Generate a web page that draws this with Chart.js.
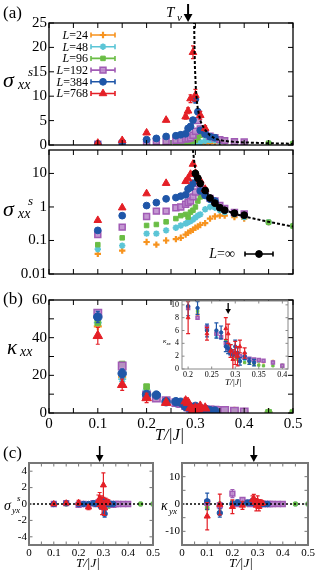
<!DOCTYPE html>
<html>
<head>
<meta charset="utf-8">
<script src="https://cdn.jsdelivr.net/npm/chart.js@4.4.1/dist/chart.umd.min.js"></script>
<style>
body { margin: 0; background: #fff; }
#wrap { position: relative; width: 316px; height: 571px; overflow: hidden; font-family: 'Liberation Serif', serif; color: #000; }
canvas { position: absolute; left: 0; top: 0; }
.t { position: absolute; white-space: nowrap; line-height: 1; }
.i { font-style: italic; }
.r { text-align: right; }
</style>
</head>
<body>
<div id="wrap">
  <canvas id="cTop" width="316" height="571"></canvas>
  <canvas id="cLog" width="316" height="571"></canvas>
  <canvas id="cK" width="316" height="571"></canvas>
  <canvas id="cInset" width="316" height="571"></canvas>
  <canvas id="cSyx" width="316" height="571"></canvas>
  <canvas id="cKyx" width="316" height="571"></canvas>

  <div class="t" style="left:3px;top:4px;font-size:17px">(a)</div>
  <div class="t i" style="left:166px;top:5px;font-size:15px">T</div>
  <div class="t i" style="left:177px;top:12px;font-size:11px">ν</div>

  <div class="t i" style="left:3px;top:69px;font-size:22px">σ</div>
  <div class="t i" style="left:18px;top:78px;font-size:14px">xx</div>
  <div class="t i" style="left:28px;top:65px;font-size:13px">s</div>

  <div class="t r" style="right:228px;top:29px;font-size:12px"><i>L</i>=24</div>
  <div class="t r" style="right:228px;top:41px;font-size:12px"><i>L</i>=48</div>
  <div class="t r" style="right:228px;top:52px;font-size:12px"><i>L</i>=96</div>
  <div class="t r" style="right:228px;top:64px;font-size:12px"><i>L</i>=192</div>
  <div class="t r" style="right:228px;top:76px;font-size:12px"><i>L</i>=384</div>
  <div class="t r" style="right:228px;top:87px;font-size:12px"><i>L</i>=768</div>

  <div class="t i" style="left:3px;top:198px;font-size:22px">σ</div>
  <div class="t i" style="left:18px;top:207px;font-size:14px">xx</div>
  <div class="t i" style="left:28px;top:194px;font-size:13px">s</div>
  <div class="t r" style="right:81px;top:247px;font-size:14px"><i>L</i>=∞</div>

  <div class="t" style="left:3px;top:290px;font-size:17px">(b)</div>
  <div class="t i" style="left:7px;top:337px;font-size:21px">κ</div>
  <div class="t i" style="left:20px;top:345px;font-size:14px">xx</div>
  <div class="t i" style="left:163px;top:338px;font-size:7px">κ<sub style="font-size:5px">xx</sub></div>
  <div class="t i" style="left:225px;top:378px;font-size:9px">T/|J|</div>
  <div class="t i" style="left:155px;top:427px;font-size:16px">T/|J|</div>

  <div class="t" style="left:3px;top:444px;font-size:17px">(c)</div>
  <div class="t i" style="left:4px;top:499px;font-size:14px">σ</div>
  <div class="t i" style="left:12px;top:506px;font-size:9px">yx</div>
  <div class="t i" style="left:17px;top:494px;font-size:9px">s</div>
  <div class="t i" style="left:76px;top:556px;font-size:13px">T/|J|</div>
  <div class="t i" style="left:161px;top:499px;font-size:14px">κ</div>
  <div class="t i" style="left:169px;top:507px;font-size:9px">yx</div>
  <div class="t i" style="left:229px;top:556px;font-size:13px">T/|J|</div>
</div>
<script>
// temperatures shared by all panels
const T = [0.1, 0.15, 0.2, 0.22, 0.24, 0.26, 0.27, 0.28, 0.285, 0.29, 0.295, 0.3, 0.305, 0.31, 0.32, 0.33, 0.34, 0.35, 0.36, 0.38, 0.4, 0.45, 0.5];

// sigma_xx^s for each L
const sxx24  = [0.04, 0.05, 0.09, 0.075, 0.1, 0.11, 0.12, 0.15, 0.17, 0.19, 0.21, 0.24, 0.26, 0.29, 0.33, 0.45, 0.52, 0.55, 0.55, 0.5, 0.45, 0.35, 0.27];
const sxx48  = [0.055, 0.07, 0.16, 0.16, 0.2, 0.24, 0.28, 0.32, 0.35, 0.38, 0.42, 0.48, 0.55, 0.6, 0.85, 1.0, 0.95, 0.8, 0.7, 0.6, 0.5, 0.35, 0.27];
const sxx96  = [0.075, 0.12, 0.28, 0.3, 0.36, 0.45, 0.55, 0.6, 0.5, 0.7, 0.8, 1.0, 1.5, 2.0, 2.2, 1.8, 1.4, 1.0, 0.8, 0.65, 0.55, 0.35, 0.27];
const sxx192 = [0.15, 0.25, 0.52, 0.75, 0.75, 0.95, 1.0, 1.2, 1.35, 1.5, 2.0, 2.8, 5.0, 3.3, 2.5, 1.8, 1.5, 1.1, 0.9, 0.68, 0.62, null, null];
const sxx384 = [0.2, 0.55, 1.1, 1.35, 1.75, 1.9, 2.1, 2.3, 3.4, 3.8, 5.1, 9.4, 6.8, 3.0, 2.2, 1.7, 1.5, null, null, null, null, null, null];
const sxx768 = [0.4, 0.95, 2.5, null, 5.1, null, null, 5.8, 7.0, 9.5, 19.0, 10.2, null, 6.1, 3.4, null, null, null, null, null, null, null, null];
const sxx384e = [0.03, 0.05, 0.1, 0.1, 0.15, 0.15, 0.2, 0.2, 0.3, 0.4, 0.5, 0.8, 0.6, 0.3, 0.2, 0.15, 0.15, null, null, null, null, null, null];
const sxx768e = [0.05, 0.1, 0.3, null, 0.3, null, null, 0.5, 0.6, 0.8, 1.3, 1.2, null, 0.8, 0.5, null, null, null, null, null, null, null, null];

// L = infinity extrapolation and fit curve
const Tinf = [0.3, 0.305, 0.31, 0.32, 0.33, 0.34, 0.35, 0.36, 0.38, 0.4];
const sInf = [10, 7.2, 5.0, 3.1, 1.85, 1.3, 0.95, 0.8, 0.65, 0.57];
const sInfE = [1.2, 0.8, 0.5, 0.3, 0.15, 0.1, 0.08, 0.06, 0.05, 0.05];
const Tfit = [0.295, 0.297, 0.299, 0.301, 0.303, 0.305, 0.31, 0.315, 0.32, 0.33, 0.34, 0.35, 0.36, 0.38, 0.4, 0.45, 0.5];
const sFit = [50, 27, 16, 11.5, 9, 7.4, 5.0, 3.9, 3.1, 1.95, 1.35, 1.0, 0.82, 0.63, 0.52, 0.36, 0.26];

// kappa_xx for each L
const kxx24  = [46, 19, 11, 8.5, 6, 5.5, 5, 4, 3.5, 3, 2.5, 2.2, 2, 1.8, 1.5, 1.3, 1.2, 1.1, 1.1, 1.2, 0.6, 0.3, 0.2];
const kxx48  = [48, 18, 12, 9, 6.5, 5, 4.8, 3.5, 3.2, 3, 2.5, 2, 1.8, 1.6, 1.4, 1.3, 1.2, 1.2, 1.2, 1.1, 0.6, 0.3, 0.2];
const kxx96  = [48, 26, 14, 9, 6, 5.5, 5, 4.5, 3.5, 2.5, 2.2, 2, 1.5, 1.2, 1, 0.9, 0.7, 0.6, 0.5, 0.5, 0.5, 0.3, 0.2];
const kxx192 = [53, 25, 9.5, 8, 6.5, 5.5, 5, 4, 3.2, 2.5, 2.3, 2.5, 2.2, 2, 1.8, 1.6, 1.5, 1.4, 1.3, 1, 0.5, null, null];
const kxx384 = [51, 21, 9.8, 9.5, 6, 6, 5.7, 3.5, 3.2, 3, 2.2, 3.5, 2.5, 1.2, 2, 1.2, 1, null, null, null, null, null, null];
const kxx768 = [41, 15, 8, null, 5.5, null, null, 6.3, 5.5, 2.8, 1.5, 2.5, 2, 3.5, 2.5, null, null, null, null, null, null, null, null];
const kxx384e = [3, 2.5, 1.5, 1, 1, 1.2, 1, 0.8, 0.8, 0.8, 0.8, 1, 0.8, 0.6, 0.5, 0.5, 0.5, null, null, null, null, null, null];
const kxx768e = [4.5, 3, 2.5, null, 1, null, null, 1.7, 1.5, 1, 1.5, 1.8, 1.5, 1, 0.8, null, null, null, null, null, null, null, null];

// sigma_yx^s for each L
const syx24  = [0, 0.05, 0, 0, 0, 0, 0, 0, 0, 0, 0.05, 0, 0, 0, 0, 0, 0, 0, 0, 0, 0, 0, 0];
const syx48  = [0, 0, 0, 0, 0, 0, 0, 0.1, 0, 0.1, 0, 0.1, 0, -0.1, 0, 0.1, 0, 0, 0, 0, 0, 0, 0];
const syx96  = [0, 0, 0, 0, 0, 0, 0, 0.1, 0.2, 0.1, 0, 0.1, 0.3, -0.2, -0.3, 0, 0, 0, 0, 0, 0, 0, 0];
const syx192 = [0, 0.1, -0.1, 0, -0.2, 0.1, 0, 0.2, 0.3, -0.1, 0.2, 0.4, -0.3, 0.1, 0, 0, -0.1, 0, 0, 0, 0, null, null];
const syx384 = [0, 0.1, 0, 0, 0, 0.1, 0, 0.2, 0.1, -0.3, 0.4, -0.2, -1.2, 0, 0, 0, 0, null, null, null, null, null, null];
const syx768 = [0, 0.1, 0.15, null, -0.4, null, null, 0.4, 0.6, 0.2, -0.3, 2.3, -0.5, 0.3, 0.2, null, null, null, null, null, null, null, null];
const syx384e = [0.1, 0.1, 0.1, 0.1, 0.1, 0.15, 0.15, 0.2, 0.3, 0.3, 0.4, 0.4, 0.4, 0.2, 0.1, 0.1, 0.1, null, null, null, null, null, null];
const syx768e = [0.15, 0.15, 0.3, null, 0.3, null, null, 0.7, 0.8, 0.8, 1.0, 1.5, 0.9, 0.4, 0.3, null, null, null, null, null, null, null, null];

// kappa_yx for each L
const kyx24  = [0, 0, 0, 0, 0, 0, 0, 0, 0, 0, 0, 0, 0, 0, 0, 0, 0, 0, 0, 0, 0, 0, 0];
const kyx48  = [0, 0, 0.5, 0, 0, 0, 0, 0.5, 0, 0.5, 0, 0.5, 0, 0, 0.5, 0, 0, 0, 0, 0, 0, 0, 0];
const kyx96  = [-1.5, 0, 0.5, 0, 0, 0, 0, 0.5, 0.5, 0, 0.5, 0, 0, 0.5, 0, 0, 0, 0, 0, 0, 0, 0, 0];
const kyx192 = [0.5, -0.5, 3.8, 0, 1.5, 0.5, 0, 0.5, 1, 0.5, 0, 0, 0.5, 0, 0, 0, 0, 0, 0, 0, 0, null, null];
const kyx384 = [1, -3.3, 0, 0.5, 0, 0.5, 0.5, 1, 0.5, 0.8, 0.3, 0.5, 0, 0.5, 0, 0, 0, null, null, null, null, null, null];
const kyx768 = [-4.5, -0.2, -1, null, -0.5, null, null, 1.5, 2, 0.5, -0.5, 1, -1, 0.5, 0.3, null, null, null, null, null, null, null, null];
const kyx192e = [1, 1, 1.5, 0.5, 0.8, 0.5, 0.5, 0.8, 0.8, 0.5, 0.5, 0.5, 0.5, 0.5, 0.5, 0.3, 0.3, 0.3, 0.3, 0.3, 0.3, null, null];
const kyx384e = [3, 1.5, 1, 1, 0.8, 0.8, 0.8, 1, 1, 0.8, 0.8, 0.8, 0.8, 0.5, 0.5, 0.3, 0.3, null, null, null, null, null, null];
const kyx768e = [5, 3.8, 2.5, null, 1.5, null, null, 1.5, 1.5, 1.5, 2, 2, 1.5, 1, 0.8, null, null, null, null, null, null, null, null];

// axis ticks
const xTicks = [0, 0.05, 0.1, 0.15, 0.2, 0.25, 0.3, 0.35, 0.4, 0.45, 0.5];
const xLabels = [0, 0.1, 0.2, 0.3, 0.4, 0.5];
const sTicks = [0, 5, 10, 15, 20, 25];
const logTicks = [0.01, 0.1, 1, 10];
const kTicks = [0, 10, 20, 30, 40, 50, 60];
const kLabels = [0, 20, 40, 60];
const insetXTicks = [0.2, 0.25, 0.3, 0.35, 0.4];
const insetYTicks = [0, 2, 4, 6, 8, 10];
const syxTicks = [-4, -2, 0, 2, 4];
const kyxTicks = [-10, -5, 0, 5, 10];
const kyxLabels = [-10, 0, 10];
const Tv = 0.285;
const zeroX = [0, 0.5];
const zeroY = [0, 0];

const W = 316, H = 571;
Chart.defaults.font.family = "'Liberation Serif', serif";
Chart.defaults.color = '#000';

const looks = [
    { color: '#f7931e', fill: '#f7931e', style: 'cross', r: 3.2, bw: 2.2 },
    { color: '#5bc5d6', fill: '#5bc5d6', style: 'star', r: 3.2, bw: 1.8 },
    { color: '#6abd45', fill: '#6abd45', style: 'rect', r: 3.2, bw: 1 },
    { color: '#a15bb5', fill: 'rgba(190,140,205,0.9)', style: 'rect', r: 4.2, bw: 1.5 },
    { color: '#1f56a8', fill: '#1f56a8', style: 'circle', r: 3.4, bw: 1 },
    { color: '#e41f26', fill: '#e41f26', style: 'triangle', r: 4.4, bw: 1 },
];

function pts(xs, ys, es) {
    const out = [];
    xs.forEach((x, i) => {
        if (ys[i] !== null) out.push({ x: x, y: ys[i], e: es ? es[i] : 0 });
    });
    return out;
}

function series(list, errs, k) {
    return list.map((ys, i) => ({
        data: pts(T, ys, errs[i]),
        pointStyle: looks[i].style,
        pointRadius: looks[i].r * k,
        pointHoverRadius: looks[i].r * k,
        backgroundColor: looks[i].fill,
        borderColor: looks[i].color,
        borderWidth: looks[i].bw,
        order: 6 - i,
        errWidth: 1.2,
    }));
}

function near(arr, v) {
    return arr.some(a => Math.abs(a - v) < 1e-9);
}

// the axis band is sized so the plot area lands exactly on box
function axis(box, type, min, max, marks, labels, tick) {
    return {
        type: type,
        min: min,
        max: max,
        grid: { display: false, drawTicks: false },
        border: { display: false },
        afterBuildTicks: s => { s.ticks = marks.map(v => ({ value: v })); },
        afterFit: s => {
            if (s.isHorizontal()) s.height = H - box[3]; else s.width = box[0];
            s.paddingLeft = s.paddingRight = s.paddingTop = s.paddingBottom = 0;
        },
        ticks: Object.assign({
            autoSkip: false,
            maxRotation: 0,
            padding: 2,
            font: { size: 15 },
            color: '#000',
            callback: v => labels && near(labels, v) ? String(v) : '',
        }, tick),
    };
}

// box frame + inward ticks on all four sides
const frameTicks = {
    id: 'frameTicks',
    beforeDraw(chart, args, o) {
        if (!o.bg) return;
        const a = chart.chartArea;
        chart.ctx.save();
        chart.ctx.fillStyle = o.bg;
        chart.ctx.fillRect(a.left, a.top, a.right - a.left, a.bottom - a.top);
        chart.ctx.restore();
    },
    afterDraw(chart, args, o) {
        const { ctx, chartArea: a, scales } = chart;
        const len = o.len || 4;
        ctx.save();
        ctx.strokeStyle = o.color || '#000';
        ctx.lineWidth = o.tickWidth || 1;
        ctx.beginPath();
        scales.x.ticks.forEach(t => {
            const p = scales.x.getPixelForValue(t.value);
            ctx.moveTo(p, a.bottom); ctx.lineTo(p, a.bottom - len);
            ctx.moveTo(p, a.top); ctx.lineTo(p, a.top + len);
        });
        scales.y.ticks.forEach(t => {
            const p = scales.y.getPixelForValue(t.value);
            ctx.moveTo(a.left, p); ctx.lineTo(a.left + len, p);
            ctx.moveTo(a.right, p); ctx.lineTo(a.right - len, p);
        });
        ctx.stroke();
        ctx.lineWidth = o.width || 1.2;
        ctx.strokeRect(a.left, a.top, a.right - a.left, a.bottom - a.top);
        ctx.restore();
    }
};

// vertical error bars, read from each point's e
const errorBars = {
    id: 'errorBars',
    beforeDatasetDraw(chart, args) {
        const ds = chart.data.datasets[args.index];
        if (!ds.errWidth) return;
        const { ctx, chartArea: a, scales: { x, y } } = chart;
        ctx.save();
        ctx.beginPath();
        ctx.rect(a.left, a.top, a.right - a.left, a.bottom - a.top);
        ctx.clip();
        ctx.strokeStyle = ds.borderColor;
        ctx.lineWidth = ds.errWidth;
        ctx.beginPath();
        ds.data.forEach(p => {
            if (!p.e) return;
            const px = x.getPixelForValue(p.x);
            const lo = Math.max(p.y - p.e, y.min);
            const y1 = y.getPixelForValue(lo);
            const y2 = y.getPixelForValue(p.y + p.e);
            ctx.moveTo(px, y1); ctx.lineTo(px, y2);
            ctx.moveTo(px - 2, y2); ctx.lineTo(px + 2, y2);
            if (p.y - p.e > y.min) { ctx.moveTo(px - 2, y1); ctx.lineTo(px + 2, y1); }
        });
        ctx.stroke();
        ctx.restore();
    }
};

function marker(ctx, ds, x, y) {
    ctx.fillStyle = ds.backgroundColor;
    ctx.strokeStyle = ds.borderColor;
    ctx.lineWidth = ds.borderWidth;
    if (Chart.helpers && Chart.helpers.drawPoint) {
        Chart.helpers.drawPoint(ctx, { pointStyle: ds.pointStyle, radius: ds.pointRadius, borderWidth: ds.borderWidth, rotation: 0 }, x, y);
    } else {
        ctx.beginPath(); ctx.arc(x, y, ds.pointRadius, 0, Math.PI * 2); ctx.fill();
    }
}

// legend samples: error-bar style line with the marker in the middle
const legendSamples = {
    id: 'legendSamples',
    afterDraw(chart, args, o) {
        if (!o.items) return;
        const ctx = chart.ctx;
        o.items.forEach(it => {
            const ds = chart.data.datasets[it.index];
            ctx.save();
            ctx.strokeStyle = ds.borderColor;
            ctx.lineWidth = 1.6;
            ctx.beginPath();
            ctx.moveTo(it.x0, it.y); ctx.lineTo(it.x1, it.y);
            ctx.moveTo(it.x0, it.y - 2.5); ctx.lineTo(it.x0, it.y + 2.5);
            ctx.moveTo(it.x1, it.y - 2.5); ctx.lineTo(it.x1, it.y + 2.5);
            ctx.stroke();
            marker(ctx, ds, (it.x0 + it.x1) / 2, it.y);
            ctx.restore();
        });
    }
};

// downward arrow at T_v
const arrowMark = {
    id: 'arrowMark',
    afterDraw(chart, args, o) {
        if (o.t === undefined) return;
        const ctx = chart.ctx;
        const x = chart.scales.x.getPixelForValue(o.t);
        ctx.save();
        ctx.strokeStyle = '#000';
        ctx.fillStyle = '#000';
        ctx.lineWidth = o.lw;
        ctx.beginPath();
        ctx.moveTo(x, o.y0); ctx.lineTo(x, o.y1 - o.head);
        ctx.stroke();
        ctx.beginPath();
        ctx.moveTo(x - o.head * 0.55, o.y1 - o.head);
        ctx.lineTo(x + o.head * 0.55, o.y1 - o.head);
        ctx.lineTo(x, o.y1);
        ctx.closePath();
        ctx.fill();
        ctx.restore();
    }
};

function makeChart(id, box, scales, datasets, plug) {
    return new Chart(document.getElementById(id), {
        type: 'scatter',
        data: { datasets: datasets },
        options: {
            responsive: false,
            animation: false,
            devicePixelRatio: 1,
            events: [],
            layout: { padding: { left: 0, top: box[1], right: W - box[2], bottom: 0 } },
            plugins: Object.assign({ legend: { display: false }, tooltip: { enabled: false } }, plug),
            scales: scales,
        },
        plugins: [frameTicks, errorBars, legendSamples, arrowMark],
    });
}

const fitLine = {
    data: pts(Tfit, sFit),
    showLine: true,
    pointRadius: 0,
    borderColor: '#000',
    borderWidth: 2,
    borderDash: [3, 2],
    order: 0,
};

// (a) linear
const boxTop = [49, 23, 293, 145];
makeChart('cTop', boxTop, {
    x: axis(boxTop, 'linear', 0, 0.5, xTicks, null, { display: false }),
    y: axis(boxTop, 'linear', 0, 25, sTicks, sTicks, {}),
}, series([sxx24, sxx48, sxx96, sxx192, sxx384, sxx768], [null, null, null, null, sxx384e, sxx768e], 1).concat([fitLine]), {
    frameTicks: { len: 5, width: 1.3 },
    arrowMark: { t: Tv, y0: 4, y1: 22, head: 8, lw: 2 },
    legendSamples: { items: [0, 1, 2, 3, 4, 5].map(i => ({ index: i, x0: 91, x1: 115, y: 35 + i * 11.7 })) },
});

// (a) log
const boxLog = [49, 150, 293, 274];
makeChart('cLog', boxLog, {
    x: axis(boxLog, 'linear', 0, 0.5, xTicks, null, { display: false }),
    y: axis(boxLog, 'logarithmic', 0.01, 50, logTicks, logTicks, {}),
}, series([sxx24, sxx48, sxx96, sxx192, sxx384, sxx768], [null, null, null, null, null, null], 1).concat([
    fitLine,
    {
        data: pts(Tinf, sInf, sInfE),
        pointStyle: 'circle', pointRadius: 3.4, backgroundColor: '#000', borderColor: '#000', borderWidth: 1,
        order: 0, errWidth: 1.2,
    },
]), {
    frameTicks: { len: 5, width: 1.3 },
    legendSamples: { items: [{ index: 7, x0: 245, x1: 273, y: 254 }] },
});

// (b) kappa_xx
const boxK = [49, 300, 293, 413];
makeChart('cK', boxK, {
    x: axis(boxK, 'linear', 0, 0.5, xTicks, xLabels, { padding: 2 }),
    y: axis(boxK, 'linear', 0, 60, kTicks, kLabels, {}),
}, series([kxx24, kxx48, kxx96, kxx192, kxx384, kxx768], [null, null, null, null, kxx384e, kxx768e], 1.25), {
    frameTicks: { len: 5, width: 1.3 },
});

// (b) inset
const boxIn = [182, 301, 288, 369];
makeChart('cInset', boxIn, {
    x: axis(boxIn, 'linear', 0.187, 0.412, insetXTicks, insetXTicks, { font: { size: 8 }, padding: 1 }),
    y: axis(boxIn, 'linear', 0, 10.6, insetYTicks, insetYTicks, { font: { size: 8 }, padding: 3 }),
}, series([kxx24, kxx48, kxx96, kxx192, kxx384, kxx768], [null, null, null, null, kxx384e, kxx768e], 0.5), {
    frameTicks: { len: 2.5, width: 1, color: '#888', bg: '#fff' },
    arrowMark: { t: Tv, y0: 303, y1: 314, head: 5, lw: 1.3 },
});

const zeroLine = {
    data: pts(zeroX, zeroY),
    showLine: true,
    pointRadius: 0,
    borderColor: '#000',
    borderWidth: 1.5,
    borderDash: [2, 2],
    order: 0,
};

// (c) sigma_yx
const boxS = [29, 463, 153, 545];
makeChart('cSyx', boxS, {
    x: axis(boxS, 'linear', 0, 0.5, xTicks, xLabels, { font: { size: 11 }, padding: 2 }),
    y: axis(boxS, 'linear', -5, 5, syxTicks, syxTicks, { font: { size: 11 }, padding: 2 }),
}, series([syx24, syx48, syx96, syx192, syx384, syx768], [null, null, null, null, syx384e, syx768e], 0.8).concat([zeroLine]), {
    frameTicks: { len: 3.5, width: 2, color: '#777' },
    arrowMark: { t: Tv, y0: 446, y1: 462, head: 7, lw: 1.6 },
});

// (c) kappa_yx
const boxKy = [182, 463, 308, 545];
makeChart('cKyx', boxKy, {
    x: axis(boxKy, 'linear', 0, 0.5, xTicks, xLabels, { font: { size: 11 }, padding: 2 }),
    y: axis(boxKy, 'linear', -15, 15, kyxTicks, kyxLabels, { font: { size: 11 }, padding: 2 }),
}, series([kyx24, kyx48, kyx96, kyx192, kyx384, kyx768], [null, null, null, kyx192e, kyx384e, kyx768e], 0.8).concat([zeroLine]), {
    frameTicks: { len: 3.5, width: 2, color: '#777' },
    arrowMark: { t: Tv, y0: 446, y1: 462, head: 7, lw: 1.6 },
});
</script>
</body>
</html>
